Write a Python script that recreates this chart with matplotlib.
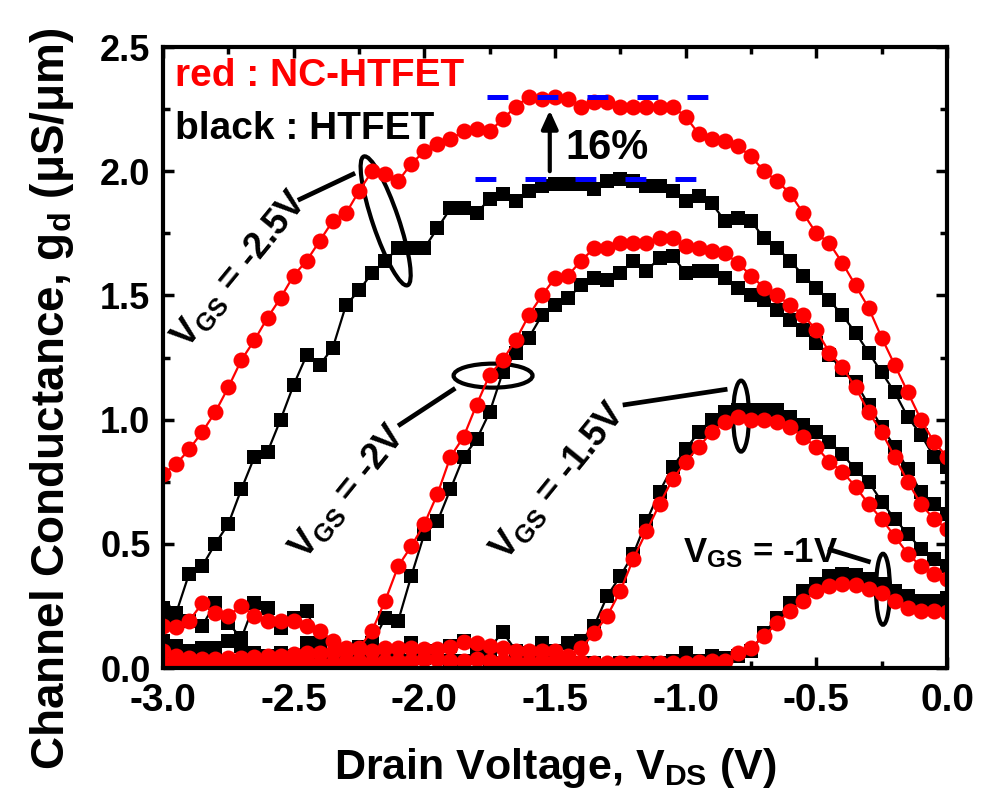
import numpy as np
import matplotlib.pyplot as plt
import matplotlib.transforms as mtransforms
from matplotlib.patches import Ellipse

plt.rcParams['font.family'] = ['Liberation Sans', 'DejaVu Sans']
plt.rcParams['font.weight'] = 'bold'
plt.rcParams['mathtext.fontset'] = 'custom'
plt.rcParams['mathtext.rm'] = 'Liberation Sans:bold'
plt.rcParams['mathtext.bf'] = 'Liberation Sans:bold'
plt.rcParams['mathtext.it'] = 'Liberation Sans:bold'

# drain voltage sweep (50 mV step)
vds = np.linspace(-3.0, 0.0, 61)

# channel conductance g_d (uS/um): nc_* = NC-HTFET (red), ht_* = HTFET (black)
nc_25 = [0.78, 0.82, 0.88, 0.95, 1.03, 1.13, 1.24, 1.32, 1.41, 1.49,
         1.58, 1.64, 1.72, 1.80, 1.83, 1.92, 2.00, 1.99, 1.96, 2.03,
         2.08, 2.11, 2.13, 2.16, 2.17, 2.16, 2.21, 2.26, 2.30, 2.29,
         2.30, 2.29, 2.26, 2.28, 2.28, 2.26, 2.26, 2.26, 2.26, 2.26,
         2.22, 2.15, 2.13, 2.12, 2.10, 2.06, 2.00, 1.96, 1.91, 1.83,
         1.75, 1.71, 1.63, 1.54, 1.45, 1.33, 1.22, 1.11, 1.00, 0.91,
         0.85]
ht_25 = [0.19, 0.22, 0.38, 0.41, 0.50, 0.58, 0.72, 0.85, 0.87, 1.00,
         1.14, 1.26, 1.22, 1.29, 1.46, 1.52, 1.59, 1.64, 1.69, 1.69,
         1.69, 1.77, 1.85, 1.85, 1.83, 1.89, 1.91, 1.88, 1.92, 1.94,
         1.95, 1.95, 1.95, 1.93, 1.96, 1.97, 1.96, 1.94, 1.94, 1.92,
         1.88, 1.90, 1.87, 1.80, 1.81, 1.80, 1.73, 1.69, 1.64, 1.58,
         1.53, 1.48, 1.42, 1.35, 1.27, 1.19, 1.11, 1.01, 0.94, 0.85,
         0.81]
nc_20 = [0.17, 0.165, 0.19, 0.26, 0.22, 0.21, 0.25, 0.21, 0.19, 0.19,
         0.19, 0.17, 0.15, 0.11, 0.08, 0.08, 0.15, 0.27, 0.41, 0.49,
         0.58, 0.70, 0.85, 0.93, 1.06, 1.18, 1.24, 1.32, 1.42, 1.50,
         1.57, 1.58, 1.64, 1.69, 1.69, 1.71, 1.71, 1.71, 1.73, 1.73,
         1.70, 1.69, 1.68, 1.67, 1.63, 1.58, 1.53, 1.50, 1.46, 1.42,
         1.36, 1.27, 1.21, 1.13, 1.03, 0.95, 0.85, 0.75, 0.66, 0.60,
         0.56]
ht_20 = [0.24, 0.21, 0.19, 0.17, 0.26, 0.18, 0.12, 0.26, 0.24, 0.16,
         0.20, 0.23, 0.10, 0.05, 0.04, 0.085, 0.10, 0.20, 0.19, 0.37,
         0.54, 0.59, 0.72, 0.85, 0.92, 1.03, 1.19, 1.27, 1.33, 1.42,
         1.46, 1.49, 1.54, 1.57, 1.56, 1.59, 1.64, 1.60, 1.65, 1.66,
         1.59, 1.60, 1.60, 1.57, 1.53, 1.50, 1.48, 1.44, 1.40, 1.36,
         1.31, 1.26, 1.20, 1.15, 1.06, 0.97, 0.89, 0.80, 0.71, 0.66,
         0.62]
nc_15 = [0.07, 0.05, 0.04, 0.035, 0.035, 0.04, 0.04, 0.045, 0.05, 0.05,
         0.055, 0.06, 0.06, 0.065, 0.07, 0.075, 0.07, 0.08, 0.08, 0.08,
         0.075, 0.075, 0.085, 0.105, 0.10, 0.09, 0.08, 0.07, 0.07, 0.07,
         0.07, 0.05, 0.08, 0.14, 0.21, 0.31, 0.44, 0.55, 0.66, 0.76,
         0.83, 0.89, 0.95, 0.99, 1.01, 1.00, 1.00, 0.99, 0.97, 0.93,
         0.89, 0.83, 0.79, 0.73, 0.66, 0.60, 0.53, 0.46, 0.41, 0.38,
         0.36]
ht_15 = [0.11, 0.09, 0.07, 0.08, 0.08, 0.11, 0.09, 0.06, 0.05, 0.06,
         0.05, 0.10, 0.06, 0.04, 0.05, 0.06, 0.05, 0.06, 0.07, 0.10,
         0.06, 0.07, 0.09, 0.11, 0.07, 0.08, 0.145, 0.07, 0.06, 0.10,
         0.07, 0.10, 0.11, 0.17, 0.29, 0.37, 0.46, 0.59, 0.71, 0.81,
         0.88, 0.95, 1.00, 1.03, 1.04, 1.04, 1.04, 1.04, 1.01, 0.98,
         0.95, 0.91, 0.86, 0.80, 0.75, 0.67, 0.60, 0.54, 0.48, 0.44,
         0.41]
nc_10 = [0.02, 0.02, 0.015, 0.02, 0.015, 0.02, 0.02, 0.02, 0.025, 0.02,
         0.02, 0.025, 0.02, 0.02, 0.03, 0.03, 0.025, 0.03, 0.03, 0.03,
         0.035, 0.035, 0.03, 0.03, 0.035, 0.03, 0.03, 0.025, 0.025, 0.03,
         0.03, 0.025, 0.025, 0.02, 0.02, 0.02, 0.02, 0.02, 0.02, 0.02,
         0.02, 0.025, 0.03, 0.03, 0.06, 0.08, 0.13, 0.18, 0.23, 0.27,
         0.31, 0.33, 0.34, 0.335, 0.32, 0.30, 0.27, 0.24, 0.23, 0.23,
         0.225]
ht_10 = [0.03, 0.02, 0.03, 0.02, 0.03, 0.02, 0.02, 0.03, 0.02, 0.02,
         0.03, 0.02, 0.02, 0.03, 0.04, 0.03, 0.03, 0.04, 0.03, 0.03,
         0.04, 0.05, 0.03, 0.03, 0.04, 0.03, 0.02, 0.03, 0.02, 0.03,
         0.02, 0.02, 0.02, 0.02, 0.01, 0.02, 0.02, 0.02, 0.02, 0.03,
         0.06, 0.03, 0.05, 0.04, 0.05, 0.07, 0.14, 0.20, 0.26, 0.31,
         0.34, 0.37, 0.38, 0.375, 0.36, 0.34, 0.31, 0.29, 0.27, 0.27,
         0.28]

fig = plt.figure(figsize=(9.82, 8.05), dpi=100)
ax = fig.add_axes([163 / 982, 1 - 668 / 805, 784 / 982, 621 / 805])

for g in [ht_25, ht_20, ht_15, ht_10]:
    ax.plot(vds, g, '-s', color='black', ms=9.5, mew=0, lw=1.6)
for g in [nc_25, nc_20, nc_15, nc_10]:
    ax.plot(vds, g, '-o', color='#ff0000', ms=11.5, mew=0, lw=1.6)

ax.set_xlim(-3.0, 0.0)
ax.set_ylim(0.0, 2.5)
ax.set_xticks(np.arange(-3.0, 0.01, 0.5))
ax.set_xticks(np.arange(-3.0, 0.01, 0.25), minor=True)
ax.set_yticks(np.arange(0, 2.51, 0.5))
ax.set_yticks(np.arange(0, 2.51, 0.25), minor=True)
ax.xaxis.set_major_formatter(plt.FormatStrFormatter('%.1f'))
ax.yaxis.set_major_formatter(plt.FormatStrFormatter('%.1f'))
ax.tick_params(which='both', direction='in', top=True, right=True, width=2.5)
ax.tick_params(which='major', length=8)
ax.tick_params(which='minor', length=5)
ax.tick_params(axis='y', labelsize=26, pad=9)
ax.tick_params(axis='x', labelsize=28, pad=11)
for sp in ax.spines.values():
    sp.set_linewidth(3)

fig.text(0.053, 0.505, 'Channel Conductance, g$_\\mathbf{d}$ (μS/μm)',
         rotation=90, ha='center', va='center', fontsize=33)
fig.text(555 / 982, 1 - 768 / 805, 'Drain Voltage, V$_\\mathbf{DS}$ (V)',
         ha='center', va='center', fontsize=31)

# peak markers (blue dashed) and increase arrow
top = max(nc_25)
bot = max(ht_25)
ax.plot([-1.76, -0.914], [top, top], color='#0000ff', lw=3.6, dashes=(4.17, 5.83))
ax.plot([-1.806, -0.956], [bot, bot], color='#0000ff', lw=3.6, dashes=(4.17, 5.83))
ax.annotate('', xy=(-1.52, 2.245), xytext=(-1.52, 2.0),
            arrowprops=dict(arrowstyle='-|>,head_length=0.55,head_width=0.25',
                            color='black', lw=3, mutation_scale=20,
                            shrinkA=0, shrinkB=0))
ax.text(-1.462, 2.048, '16%', fontsize=30, ha='left', va='baseline')

ax.text(-2.954, 2.343, 'red : NC-HTFET', color='#ff0000', fontsize=28,
        ha='left', va='baseline')
ax.text(-2.954, 2.129, 'black : HTFET', color='black', fontsize=28,
        ha='left', va='baseline')


def ring(x, y, w, h, ang):
    tr = mtransforms.ScaledTranslation(x, y, ax.transData)
    ax.add_patch(Ellipse((0, 0), w, h, angle=ang, fill=False, ec='black',
                         lw=3, transform=tr, clip_on=False))


ring(-2.148, 1.800, 136, 26, 108.7)
ring(-1.737, 1.177, 79, 24, 0)
ring(-0.788, 1.014, 16, 71, 0)
ring(-0.245, 0.317, 14, 71, 0)

ax.plot([-2.476, -2.273], [1.887, 1.988], color='black', lw=3.4)
ax.plot([-2.093, -1.889], [0.980, 1.121], color='black', lw=3.4)
ax.plot([-1.232, -0.849], [1.060, 1.121], color='black', lw=3.4)
ax.plot([-0.447, -0.301], [0.476, 0.429], color='black', lw=3.4)

ax.text(-2.705, 1.605, '$\\mathbf{V_{GS}}$ = -2.5V', fontsize=26, rotation=50.7,
        rotation_mode='anchor', ha='center', va='center')
ax.text(-2.292, 0.710, '$\\mathbf{V_{GS}}$ = -2V', fontsize=26, rotation=51,
        rotation_mode='anchor', ha='center', va='center')
ax.text(-1.488, 0.750, '$\\mathbf{V_{GS}}$ = -1.5V', fontsize=26, rotation=51,
        rotation_mode='anchor', ha='center', va='center')
ax.text(-1.010, 0.427, '$\\mathbf{V_{GS}}$ = -1V', fontsize=25,
        ha='left', va='baseline')

fig.savefig('out.png', dpi=100)
